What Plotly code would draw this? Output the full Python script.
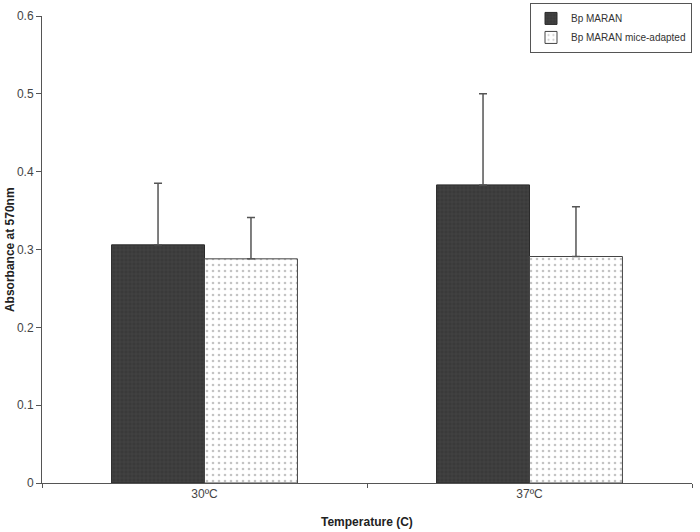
import plotly.graph_objects as go

categories = ["30ºC", "37ºC"]
series_names = ["Bp MARAN", "Bp MARAN mice-adapted"]
maran_values = [0.306, 0.383]
maran_errors = [0.079, 0.117]
adapted_values = [0.288, 0.291]
adapted_errors = [0.053, 0.064]

fig = go.Figure()
fig.add_trace(go.Bar(
    x=categories, y=maran_values, name=series_names[0],
    marker=dict(color="#3c3c3c", line=dict(color="#2a2a2a", width=1),
                pattern=dict(shape="+", fgcolor="#555555", bgcolor="#3a3a3a", size=4, solidity=0.25)),
    error_y=dict(type="data", array=maran_errors, arrayminus=[0, 0], symmetric=False,
                 color="#555555", thickness=1.5, width=4),
))
fig.add_trace(go.Bar(
    x=categories, y=adapted_values, name=series_names[1],
    marker=dict(color="white", line=dict(color="#444444", width=1),
                pattern=dict(shape=".", fgcolor="#8a8a8a", bgcolor="white", size=6, solidity=0.15)),
    error_y=dict(type="data", array=adapted_errors, arrayminus=[0, 0], symmetric=False,
                 color="#555555", thickness=1.5, width=4),
))

font = "Liberation Sans, Arial, sans-serif"
fig.update_layout(
    width=700, height=532,
    margin=dict(l=42, r=8, t=16, b=49, autoexpand=False),
    paper_bgcolor="white", plot_bgcolor="white",
    barmode="group", bargap=0.428, bargroupgap=0,
    font=dict(family=font, size=12, color="#333333"),
    showlegend=True,
    legend=dict(x=1.0, y=1.028, xanchor="right", yanchor="top",
                bordercolor="#555555", borderwidth=1, bgcolor="white",
                font=dict(size=10, color="#333333"), itemwidth=30, tracegroupgap=0),
    xaxis=dict(
        showline=True, linecolor="#555555", linewidth=1,
        ticks="outside", tickson="boundaries", ticklen=4, tickcolor="#555555",
        tickfont=dict(size=12, color="#444444"), showgrid=False,
    ),
    yaxis=dict(
        range=[0, 0.6], tickvals=[0, 0.1, 0.2, 0.3, 0.4, 0.5, 0.6],
        ticktext=["0", "0.1", "0.2", "0.3", "0.4", "0.5", "0.6"],
        showline=True, linecolor="#555555", linewidth=1,
        ticks="outside", ticklen=5, tickcolor="#555555",
        tickfont=dict(size=12, color="#444444"), showgrid=False, zeroline=False,
    ),
    annotations=[
        dict(text="<b>Temperature (C)</b>", xref="paper", yref="paper", x=0.5, y=-0.065,
             xanchor="center", yanchor="top", showarrow=False,
             font=dict(size=12, color="#222222")),
        dict(text="<b>Absorbance at 570nm</b>", xref="paper", yref="paper", x=-0.036, y=0.5,
             xanchor="right", yanchor="middle", textangle=-90, showarrow=False,
             font=dict(size=12, color="#222222")),
    ],
)

fig.write_html("out.html", config={"displayModeBar": False},
               post_script="document.body.style.margin='0';")
